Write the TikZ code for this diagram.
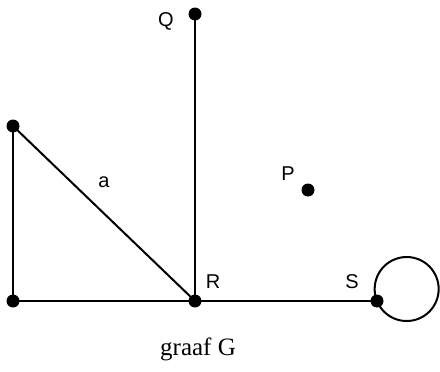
\documentclass[tikz,border=0pt]{standalone}
\usepackage{fontspec}
\setmainfont{Liberation Serif}
\newfontfamily\labelfont{Liberation Sans}

\tikzset{
	vertex/.style={circle, fill, inner sep=0pt, minimum size=13pt},
	edge/.style={line width=2pt},
	vlabel/.style={font=\labelfont\fontsize{20}{24}\selectfont, inner sep=0pt}
}

\begin{document}
\begin{tikzpicture}[x=1pt, y=-1pt]
	\useasboundingbox (0,0) rectangle (440,372);
	% vertices
	\node[vertex] (Q) at (195,14) {};
	\node[vertex] (TL) at (13,126) {};
	\node[vertex] (BL) at (13,301) {};
	\node[vertex] (R) at (195,301) {};
	\node[vertex] (S) at (377,301) {};
	\node[vertex] (P) at (308,190) {};
	% edges
	\draw[edge] (TL.center) -- (BL.center);
	\draw[edge] (BL.center) -- (R.center);
	\draw[edge] (TL.center) -- (R.center);
	\draw[edge] (Q.center) -- (R.center);
	\draw[edge] (R.center) -- (S.center);
	\draw[edge] (S.center) arc[start angle=158, end angle=518, radius=32];
	% labels
	\node[vlabel] (lQ) at (166,21) {Q};
	\node[vlabel] (la) at (104,182) {a};
	\node[vlabel] (lP) at (288,174) {P};
	\node[vlabel] (lR) at (213,282) {R};
	\node[vlabel] (lS) at (352,282) {S};
	\node[font=\fontsize{25}{30}\selectfont] (title) at (198,349) {graaf G};
\end{tikzpicture}
\end{document}
